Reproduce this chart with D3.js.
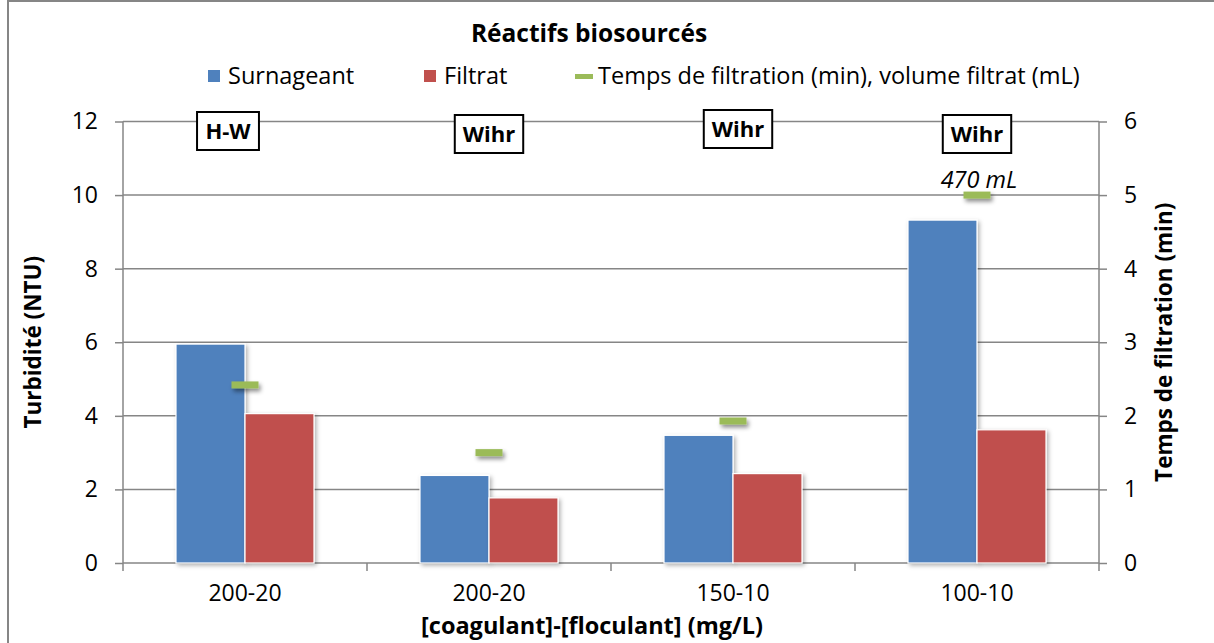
<!DOCTYPE html>
<html>
<head>
<meta charset="utf-8">
<script src="https://cdn.jsdelivr.net/npm/d3@7"></script>
<style>
  html, body { margin: 0; padding: 0; background: #fff; }
  svg { display: block; font-family: "Open Sans", Lato, sans-serif; }
</style>
</head>
<body>
<svg id="chart" width="1214" height="643"></svg>
<script>
// ---- data ----
const categories = ["200-20", "200-20", "150-10", "100-10"];
const surnageant = [5.95, 2.38, 3.47, 9.32];
const filtrat = [4.06, 1.77, 2.43, 3.62];
const tempsFiltration = [2.42, 1.50, 1.93, 5.0];
const reactifs = ["H-W", "Wihr", "Wihr", "Wihr"];
const volumeLabels = ["", "", "", "470 mL"];
const leftTicks = [0, 2, 4, 6, 8, 10, 12];
const rightTicks = [0, 1, 2, 3, 4, 5, 6];
const seriesNames = ["Surnageant", "Filtrat", "Temps de filtration (min), volume filtrat (mL)"];
const colors = ["#4F81BD", "#C0504D", "#9BBB59"];

// ---- layout ----
const W = 1214, H = 643;
const plot = { left: 123, right: 1099, top: 121.5, bottom: 563 };
const gridColor = "#868686";
const tickSize = 23;
const legendSize = 23.5;
const FONT = "Open Sans";

const svg = d3.select("#chart");

const defs = svg.append("defs");
const sh = defs.append("filter").attr("id", "shadow").attr("x", "-20%").attr("y", "-20%").attr("width", "150%").attr("height", "150%");
sh.append("feDropShadow").attr("dx", 2).attr("dy", 2).attr("stdDeviation", 2).attr("flood-color", "#000").attr("flood-opacity", 0.3);
const sh2 = defs.append("filter").attr("id", "shadow2").attr("x", "-50%").attr("y", "-100%").attr("width", "200%").attr("height", "400%");
sh2.append("feDropShadow").attr("dx", 2).attr("dy", 3).attr("stdDeviation", 2).attr("flood-color", "#000").attr("flood-opacity", 0.45);

// chart frame
svg.append("rect").attr("x", 8).attr("y", 1).attr("width", W + 20).attr("height", H + 20)
  .attr("fill", "none").attr("stroke", gridColor).attr("stroke-width", 2);

// scales
const pInner = 106 / 244;
const x = d3.scaleBand().domain(d3.range(categories.length)).range([plot.left, plot.right])
  .paddingInner(pInner).paddingOuter(pInner / 2);
const xs = d3.scaleBand().domain([0, 1]).range([0, x.bandwidth()]);
const yL = d3.scaleLinear().domain([0, 12]).range([plot.bottom, plot.top]);
const yR = d3.scaleLinear().domain([0, 6]).range([plot.bottom, plot.top]);

// gridlines
svg.append("g").selectAll("line").data(leftTicks.filter(d => d > 0)).join("line")
  .attr("x1", plot.left).attr("x2", plot.right)
  .attr("y1", d => yL(d)).attr("y2", d => yL(d))
  .attr("stroke", gridColor).attr("stroke-width", 1.5);

// left axis
const axL = svg.append("g").attr("transform", `translate(${plot.left},0)`)
  .call(d3.axisLeft(yL).tickValues(leftTicks).tickFormat(d3.format("d")).tickSize(8).tickPadding(17));
axL.select(".domain").attr("stroke", gridColor).attr("stroke-width", 1.5).attr("d", `M0,${plot.top}V${plot.bottom + 8}`);
axL.selectAll(".tick line").attr("stroke", gridColor).attr("stroke-width", 1.5);
axL.selectAll(".tick text").attr("font-size", tickSize).attr("fill", "#000").attr("font-family", FONT);

// right axis
const axR = svg.append("g").attr("transform", `translate(${plot.right},0)`)
  .call(d3.axisRight(yR).tickValues(rightTicks).tickFormat(d3.format("d")).tickSize(8).tickPadding(17));
axR.select(".domain").attr("stroke", gridColor).attr("stroke-width", 1.5).attr("d", `M0,${plot.top}V${plot.bottom + 8}`);
axR.selectAll(".tick line").attr("stroke", gridColor).attr("stroke-width", 1.5);
axR.selectAll(".tick text").attr("font-size", tickSize).attr("fill", "#000").attr("font-family", FONT);

// bottom axis
const axB = svg.append("g").attr("transform", `translate(0,${plot.bottom})`)
  .call(d3.axisBottom(x).tickFormat(i => categories[i]).tickSize(0).tickPadding(22));
axB.select(".domain").attr("stroke", gridColor).attr("stroke-width", 1.5).attr("d", `M${plot.left},0H${plot.right}`);
axB.selectAll(".tick text").attr("font-size", tickSize).attr("fill", "#000").attr("font-family", FONT);
// category boundary ticks
svg.append("g").selectAll("line").data(d3.range(1, categories.length)).join("line")
  .attr("x1", i => x(i) - x.step() * pInner / 2).attr("x2", i => x(i) - x.step() * pInner / 2)
  .attr("y1", plot.bottom).attr("y2", plot.bottom + 8)
  .attr("stroke", gridColor).attr("stroke-width", 1.5);

// bars
const barSeries = [surnageant, filtrat];
barSeries.forEach((vals, s) => {
  svg.append("g").selectAll("rect").data(vals).join("rect")
    .attr("x", (d, i) => x(i) + xs(s))
    .attr("width", xs.bandwidth())
    .attr("y", d => yL(d))
    .attr("height", d => plot.bottom - yL(d))
    .attr("fill", colors[s])
    .attr("stroke", "#fff").attr("stroke-width", 1.2)
    .attr("filter", "url(#shadow)");
});

// filtration time markers
const mw = 27, mh = 7;
svg.append("g").selectAll("rect").data(tempsFiltration).join("rect")
  .attr("x", (d, i) => x(i) + x.bandwidth() / 2 - mw / 2)
  .attr("y", d => yR(d) - mh / 2)
  .attr("width", mw).attr("height", mh)
  .attr("fill", colors[2])
  .attr("filter", "url(#shadow2)");

// volume labels
svg.append("g").selectAll("text").data(volumeLabels).join("text")
  .attr("x", (d, i) => x(i) + x.bandwidth() / 2 + 2)
  .attr("y", (d, i) => yR(tempsFiltration[i]) - 7)
  .attr("text-anchor", "middle")
  .attr("font-size", legendSize).attr("font-style", "italic")
  .text(d => d);

// reagent boxes
const boxOffsets = [-17, 0, 5, 0];
const boxTops = [112, 115, 110, 115];
reactifs.forEach((r, i) => {
  const cx = x(i) + x.bandwidth() / 2 + boxOffsets[i];
  const g = svg.append("g");
  const t = g.append("text").attr("x", cx).attr("y", boxTops[i] + 27)
    .attr("text-anchor", "middle").attr("font-size", 22).attr("font-weight", "bold").text(r);
  const bb = t.node().getBBox();
  g.insert("rect", "text").attr("x", cx - (bb.width + 16) / 2).attr("y", boxTops[i])
    .attr("width", bb.width + 16).attr("height", 38)
    .attr("fill", "#fff").attr("stroke", "#000").attr("stroke-width", 2);
});

// title
svg.append("text").attr("x", 589).attr("y", 42).attr("text-anchor", "middle")
  .attr("font-size", 24.5).attr("font-weight", "bold").text("Réactifs biosourcés");

// legend
const legendX = [208, 424, 575];
const lg = svg.append("g");
seriesNames.forEach((n, i) => {
  if (i < 2) {
    lg.append("rect").attr("x", legendX[i]).attr("y", 70).attr("width", 12).attr("height", 12).attr("fill", colors[i]);
    lg.append("text").attr("x", legendX[i] + 20).attr("y", 84).attr("font-size", legendSize).text(n);
  } else {
    lg.append("rect").attr("x", legendX[i]).attr("y", 74).attr("width", 18).attr("height", 5).attr("fill", colors[i]);
    lg.append("text").attr("x", legendX[i] + 23).attr("y", 84).attr("font-size", legendSize).text(n);
  }
});

// axis titles
svg.append("text").attr("transform", `translate(41,${(plot.top + plot.bottom) / 2}) rotate(-90)`)
  .attr("text-anchor", "middle").attr("font-size", 22.5).attr("font-weight", "bold").text("Turbidité (NTU)");
svg.append("text").attr("transform", `translate(1172,${(plot.top + plot.bottom) / 2}) rotate(-90)`)
  .attr("text-anchor", "middle").attr("font-size", 22.5).attr("font-weight", "bold").text("Temps de filtration (min)");
svg.append("text").attr("x", 592).attr("y", 634).attr("text-anchor", "middle")
  .attr("font-size", 23.5).attr("font-weight", "bold").text("[coagulant]-[floculant] (mg/L)");
</script>
</body>
</html>
